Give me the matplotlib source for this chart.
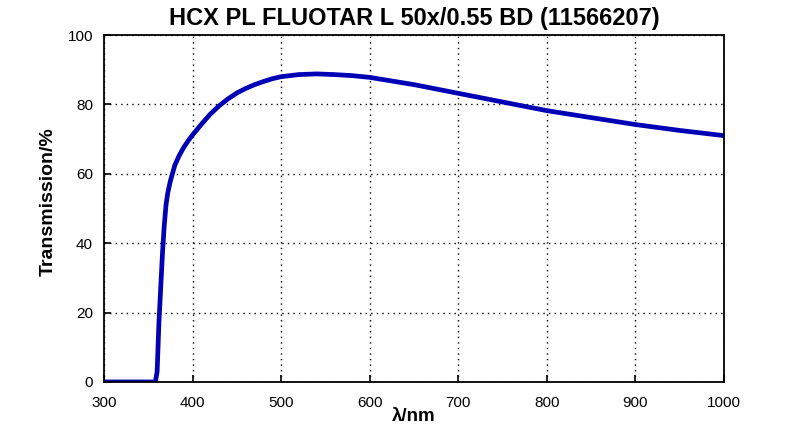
import matplotlib
matplotlib.use("Agg")
import matplotlib.pyplot as plt

# Transmission curve (wavelength in nm, transmission in %)
wavelength = [300, 358, 360, 362, 364, 366, 368, 370, 372, 375, 380, 385, 390, 395,
              400, 410, 420, 430, 440, 450, 460, 470, 480, 490, 500, 520, 540, 560,
              580, 600, 650, 700, 750, 800, 850, 900, 950, 1000]
transmission = [0, 0, 3, 17, 27, 37, 45, 51, 54.5, 58, 62.5, 65.3, 67.6, 69.5,
                71.2, 74.3, 77.2, 79.6, 81.6, 83.3, 84.6, 85.7, 86.6, 87.4, 88.0, 88.6, 88.8, 88.6,
                88.3, 87.8, 85.7, 83.2, 80.7, 78.2, 76.2, 74.2, 72.5, 71.0]

x_ticks = [300, 400, 500, 600, 700, 800, 900, 1000]
y_ticks = [0, 20, 40, 60, 80, 100]

plt.rcParams['font.family'] = ['Liberation Sans', 'DejaVu Sans']

fig = plt.figure(figsize=(8, 4.38), dpi=100)
ax = fig.add_axes([0.13, 0.128, 0.775, 0.792])

ax.plot(wavelength, transmission, color="#0000b4", linewidth=3.4, solid_capstyle="butt")

ax.set_xlim(300, 1000)
ax.set_ylim(0, 100)
ax.set_xticks(x_ticks)
ax.set_yticks(y_ticks)
ax.tick_params(direction="in", length=5, width=1.2, labelsize=11, pad=8, colors="black")
ax.tick_params(axis="x", pad=10)

ax.grid(True, color="black", linestyle=(0, (1, 3)), linewidth=1.0)
for s in ax.spines.values():
    s.set_linewidth(1.3)
    s.set_color("black")

ax.set_title("HCX PL FLUOTAR L 50x/0.55 BD (11566207)", fontsize=17, fontweight="bold", pad=7)
ax.set_xlabel("λ/nm", fontsize=13.5, fontweight="bold", labelpad=-1)
ax.set_ylabel("Transmission/%", fontsize=14, fontweight="bold")
ax.yaxis.set_label_coords(-0.077, 0.52)

fig.savefig("out.png", dpi=100)
